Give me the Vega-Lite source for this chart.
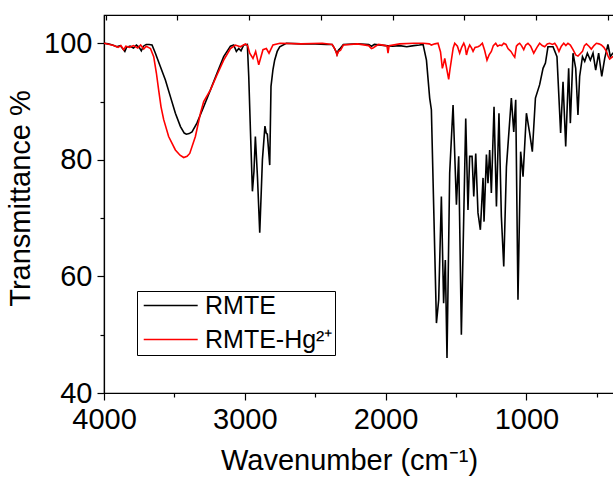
{
  "$schema": "https://vega.github.io/schema/vega-lite/v6.json",
  "width": 510,
  "height": 378,
  "autosize": {"type": "none"},
  "padding": {"left": 104, "top": 15, "right": 0, "bottom": 88},
  "background": "white",
  "config": {
    "view": {"stroke": "black", "strokeWidth": 1.2},
    "font": "Liberation Sans",
    "axis": {"grid": false, "domainColor": "black", "tickColor": "black", "labelColor": "black", "titleColor": "black", "labelFont": "Liberation Sans", "titleFont": "Liberation Sans", "titleFontWeight": "normal", "domainWidth": 1.2, "tickWidth": 1.2}
  },
  "datasets": {
    "spec": [
      {"s":"RMTE","wn":4000,"T":100},{"s":"RMTE","wn":3970,"T":99.9},{"s":"RMTE","wn":3940,"T":99.7},{"s":"RMTE","wn":3910,"T":99.4},{"s":"RMTE","wn":3885,"T":99.6},{"s":"RMTE","wn":3865,"T":99.0},{"s":"RMTE","wn":3852,"T":98.6},{"s":"RMTE","wn":3840,"T":99.3},{"s":"RMTE","wn":3815,"T":99.5},{"s":"RMTE","wn":3790,"T":99.2},{"s":"RMTE","wn":3770,"T":99.7},{"s":"RMTE","wn":3750,"T":99.3},{"s":"RMTE","wn":3735,"T":98.7},{"s":"RMTE","wn":3720,"T":99.5},{"s":"RMTE","wn":3700,"T":99.8},{"s":"RMTE","wn":3680,"T":99.8},{"s":"RMTE","wn":3659,"T":99.7},{"s":"RMTE","wn":3635,"T":98.3},{"s":"RMTE","wn":3600,"T":96},{"s":"RMTE","wn":3564,"T":93.7},{"s":"RMTE","wn":3528,"T":90.8},{"s":"RMTE","wn":3493,"T":88},{"s":"RMTE","wn":3457,"T":85.7},{"s":"RMTE","wn":3430,"T":84.6},{"s":"RMTE","wn":3415,"T":84.4},{"s":"RMTE","wn":3395,"T":84.5},{"s":"RMTE","wn":3375,"T":84.8},{"s":"RMTE","wn":3340,"T":86.3},{"s":"RMTE","wn":3292,"T":89.1},{"s":"RMTE","wn":3244,"T":92},{"s":"RMTE","wn":3197,"T":94.9},{"s":"RMTE","wn":3150,"T":97.7},{"s":"RMTE","wn":3102,"T":99.5},{"s":"RMTE","wn":3079,"T":99.7},{"s":"RMTE","wn":3060,"T":98.6},{"s":"RMTE","wn":3043,"T":99.1},{"s":"RMTE","wn":3027,"T":98.7},{"s":"RMTE","wn":3008,"T":99.7},{"s":"RMTE","wn":2982,"T":99.8},{"s":"RMTE","wn":2972,"T":94.3},{"s":"RMTE","wn":2960,"T":85},{"s":"RMTE","wn":2946,"T":74.6},{"s":"RMTE","wn":2935,"T":78},{"s":"RMTE","wn":2925,"T":84},{"s":"RMTE","wn":2910,"T":77},{"s":"RMTE","wn":2894,"T":67.5},{"s":"RMTE","wn":2884,"T":74},{"s":"RMTE","wn":2875,"T":80},{"s":"RMTE","wn":2857,"T":85.8},{"s":"RMTE","wn":2848,"T":84.6},{"s":"RMTE","wn":2840,"T":84.4},{"s":"RMTE","wn":2823,"T":79.1},{"s":"RMTE","wn":2814,"T":92.6},{"s":"RMTE","wn":2800,"T":95.5},{"s":"RMTE","wn":2788,"T":97.1},{"s":"RMTE","wn":2770,"T":98.6},{"s":"RMTE","wn":2752,"T":99.4},{"s":"RMTE","wn":2705,"T":100},{"s":"RMTE","wn":2600,"T":99.9},{"s":"RMTE","wn":2500,"T":99.9},{"s":"RMTE","wn":2420,"T":99.8},{"s":"RMTE","wn":2380,"T":99.8},{"s":"RMTE","wn":2365,"T":99.2},{"s":"RMTE","wn":2350,"T":98.5},{"s":"RMTE","wn":2345,"T":98.1},{"s":"RMTE","wn":2335,"T":98.8},{"s":"RMTE","wn":2320,"T":99.2},{"s":"RMTE","wn":2300,"T":99.8},{"s":"RMTE","wn":2200,"T":99.9},{"s":"RMTE","wn":2120,"T":99.8},{"s":"RMTE","wn":2100,"T":99.5},{"s":"RMTE","wn":2080,"T":99.8},{"s":"RMTE","wn":2000,"T":99.6},{"s":"RMTE","wn":1950,"T":99.5},{"s":"RMTE","wn":1900,"T":99.6},{"s":"RMTE","wn":1850,"T":99.4},{"s":"RMTE","wn":1800,"T":99.6},{"s":"RMTE","wn":1760,"T":99.7},{"s":"RMTE","wn":1734,"T":99.8},{"s":"RMTE","wn":1710,"T":97.1},{"s":"RMTE","wn":1687,"T":90.6},{"s":"RMTE","wn":1675,"T":88.6},{"s":"RMTE","wn":1658,"T":71.4},{"s":"RMTE","wn":1639,"T":52},{"s":"RMTE","wn":1623,"T":56},{"s":"RMTE","wn":1604,"T":73.7},{"s":"RMTE","wn":1588,"T":55.4},{"s":"RMTE","wn":1576,"T":62.8},{"s":"RMTE","wn":1564,"T":46},{"s":"RMTE","wn":1545,"T":77.7},{"s":"RMTE","wn":1521,"T":89.4},{"s":"RMTE","wn":1497,"T":72.3},{"s":"RMTE","wn":1481,"T":80.6},{"s":"RMTE","wn":1462,"T":50},{"s":"RMTE","wn":1431,"T":87.1},{"s":"RMTE","wn":1415,"T":71.4},{"s":"RMTE","wn":1403,"T":80.6},{"s":"RMTE","wn":1386,"T":80.6},{"s":"RMTE","wn":1374,"T":73.7},{"s":"RMTE","wn":1360,"T":81.1},{"s":"RMTE","wn":1344,"T":70.9},{"s":"RMTE","wn":1327,"T":68},{"s":"RMTE","wn":1308,"T":76.9},{"s":"RMTE","wn":1301,"T":69.4},{"s":"RMTE","wn":1284,"T":80.9},{"s":"RMTE","wn":1273,"T":76},{"s":"RMTE","wn":1261,"T":81.7},{"s":"RMTE","wn":1249,"T":74.3},{"s":"RMTE","wn":1230,"T":89.1},{"s":"RMTE","wn":1213,"T":72},{"s":"RMTE","wn":1195,"T":88},{"s":"RMTE","wn":1178,"T":70.3},{"s":"RMTE","wn":1161,"T":61.7},{"s":"RMTE","wn":1142,"T":78.8},{"s":"RMTE","wn":1107,"T":90.6},{"s":"RMTE","wn":1090,"T":84.8},{"s":"RMTE","wn":1076,"T":90.3},{"s":"RMTE","wn":1060,"T":56},{"s":"RMTE","wn":1041,"T":81.4},{"s":"RMTE","wn":1024,"T":77.1},{"s":"RMTE","wn":1000,"T":88},{"s":"RMTE","wn":977,"T":84.6},{"s":"RMTE","wn":958,"T":81.4},{"s":"RMTE","wn":936,"T":90.6},{"s":"RMTE","wn":906,"T":92.9},{"s":"RMTE","wn":882,"T":95.7},{"s":"RMTE","wn":865,"T":96.6},{"s":"RMTE","wn":847,"T":99.4},{"s":"RMTE","wn":811,"T":99.4},{"s":"RMTE","wn":783,"T":97.7},{"s":"RMTE","wn":757,"T":84.6},{"s":"RMTE","wn":740,"T":93.4},{"s":"RMTE","wn":721,"T":82.3},{"s":"RMTE","wn":700,"T":95.7},{"s":"RMTE","wn":688,"T":86.3},{"s":"RMTE","wn":669,"T":98.3},{"s":"RMTE","wn":650,"T":95.7},{"s":"RMTE","wn":634,"T":87.7},{"s":"RMTE","wn":622,"T":94.3},{"s":"RMTE","wn":602,"T":97.7},{"s":"RMTE","wn":586,"T":96.9},{"s":"RMTE","wn":567,"T":98.3},{"s":"RMTE","wn":546,"T":97.1},{"s":"RMTE","wn":527,"T":98.3},{"s":"RMTE","wn":508,"T":95.4},{"s":"RMTE","wn":487,"T":98.3},{"s":"RMTE","wn":465,"T":94.3},{"s":"RMTE","wn":444,"T":97.4},{"s":"RMTE","wn":421,"T":99.8},{"s":"RMTE","wn":404,"T":97.7},{"s":"RMTE","wn":387,"T":98.3},{"s":"RMTE","wn":378,"T":98.3},
      {"s":"RMTE-Hg²⁺","wn":4000,"T":100},{"s":"RMTE-Hg²⁺","wn":3960,"T":99.8},{"s":"RMTE-Hg²⁺","wn":3930,"T":99.6},{"s":"RMTE-Hg²⁺","wn":3900,"T":99.3},{"s":"RMTE-Hg²⁺","wn":3880,"T":99.6},{"s":"RMTE-Hg²⁺","wn":3860,"T":98.9},{"s":"RMTE-Hg²⁺","wn":3845,"T":99.5},{"s":"RMTE-Hg²⁺","wn":3820,"T":99.3},{"s":"RMTE-Hg²⁺","wn":3790,"T":99.6},{"s":"RMTE-Hg²⁺","wn":3760,"T":99.2},{"s":"RMTE-Hg²⁺","wn":3740,"T":99.7},{"s":"RMTE-Hg²⁺","wn":3718,"T":99.0},{"s":"RMTE-Hg²⁺","wn":3700,"T":99.5},{"s":"RMTE-Hg²⁺","wn":3685,"T":99.3},{"s":"RMTE-Hg²⁺","wn":3670,"T":99.1},{"s":"RMTE-Hg²⁺","wn":3647,"T":97.7},{"s":"RMTE-Hg²⁺","wn":3628,"T":94.9},{"s":"RMTE-Hg²⁺","wn":3612,"T":92},{"s":"RMTE-Hg²⁺","wn":3595,"T":89.1},{"s":"RMTE-Hg²⁺","wn":3576,"T":86.9},{"s":"RMTE-Hg²⁺","wn":3541,"T":84},{"s":"RMTE-Hg²⁺","wn":3493,"T":81.7},{"s":"RMTE-Hg²⁺","wn":3460,"T":80.8},{"s":"RMTE-Hg²⁺","wn":3434,"T":80.4},{"s":"RMTE-Hg²⁺","wn":3410,"T":80.6},{"s":"RMTE-Hg²⁺","wn":3391,"T":81.1},{"s":"RMTE-Hg²⁺","wn":3351,"T":84},{"s":"RMTE-Hg²⁺","wn":3315,"T":88},{"s":"RMTE-Hg²⁺","wn":3292,"T":90},{"s":"RMTE-Hg²⁺","wn":3244,"T":92},{"s":"RMTE-Hg²⁺","wn":3197,"T":94.6},{"s":"RMTE-Hg²⁺","wn":3150,"T":97.1},{"s":"RMTE-Hg²⁺","wn":3102,"T":99.1},{"s":"RMTE-Hg²⁺","wn":3067,"T":99.7},{"s":"RMTE-Hg²⁺","wn":3031,"T":99.4},{"s":"RMTE-Hg²⁺","wn":2996,"T":99.9},{"s":"RMTE-Hg²⁺","wn":2980,"T":99.6},{"s":"RMTE-Hg²⁺","wn":2965,"T":98.3},{"s":"RMTE-Hg²⁺","wn":2942,"T":97.4},{"s":"RMTE-Hg²⁺","wn":2923,"T":98.6},{"s":"RMTE-Hg²⁺","wn":2901,"T":96.3},{"s":"RMTE-Hg²⁺","wn":2871,"T":98.9},{"s":"RMTE-Hg²⁺","wn":2847,"T":99.1},{"s":"RMTE-Hg²⁺","wn":2828,"T":98.3},{"s":"RMTE-Hg²⁺","wn":2800,"T":99.7},{"s":"RMTE-Hg²⁺","wn":2750,"T":100},{"s":"RMTE-Hg²⁺","wn":2600,"T":99.9},{"s":"RMTE-Hg²⁺","wn":2450,"T":100},{"s":"RMTE-Hg²⁺","wn":2380,"T":99.8},{"s":"RMTE-Hg²⁺","wn":2360,"T":99.0},{"s":"RMTE-Hg²⁺","wn":2345,"T":98.0},{"s":"RMTE-Hg²⁺","wn":2335,"T":98.6},{"s":"RMTE-Hg²⁺","wn":2320,"T":98.8},{"s":"RMTE-Hg²⁺","wn":2300,"T":99.7},{"s":"RMTE-Hg²⁺","wn":2200,"T":99.9},{"s":"RMTE-Hg²⁺","wn":2120,"T":99.6},{"s":"RMTE-Hg²⁺","wn":2101,"T":99.1},{"s":"RMTE-Hg²⁺","wn":2090,"T":99.2},{"s":"RMTE-Hg²⁺","wn":2050,"T":99.8},{"s":"RMTE-Hg²⁺","wn":2000,"T":99.6},{"s":"RMTE-Hg²⁺","wn":1990,"T":99.5},{"s":"RMTE-Hg²⁺","wn":1983,"T":98.3},{"s":"RMTE-Hg²⁺","wn":1975,"T":99.6},{"s":"RMTE-Hg²⁺","wn":1900,"T":99.9},{"s":"RMTE-Hg²⁺","wn":1800,"T":100},{"s":"RMTE-Hg²⁺","wn":1734,"T":100},{"s":"RMTE-Hg²⁺","wn":1690,"T":99.9},{"s":"RMTE-Hg²⁺","wn":1675,"T":99.7},{"s":"RMTE-Hg²⁺","wn":1650,"T":99.9},{"s":"RMTE-Hg²⁺","wn":1628,"T":100},{"s":"RMTE-Hg²⁺","wn":1610,"T":98.5},{"s":"RMTE-Hg²⁺","wn":1597,"T":95.7},{"s":"RMTE-Hg²⁺","wn":1588,"T":96.5},{"s":"RMTE-Hg²⁺","wn":1580,"T":97.4},{"s":"RMTE-Hg²⁺","wn":1565,"T":95.5},{"s":"RMTE-Hg²⁺","wn":1552,"T":93.8},{"s":"RMTE-Hg²⁺","wn":1543,"T":95.5},{"s":"RMTE-Hg²⁺","wn":1533,"T":97.1},{"s":"RMTE-Hg²⁺","wn":1520,"T":99.2},{"s":"RMTE-Hg²⁺","wn":1509,"T":100},{"s":"RMTE-Hg²⁺","wn":1490,"T":99.5},{"s":"RMTE-Hg²⁺","wn":1474,"T":98.3},{"s":"RMTE-Hg²⁺","wn":1460,"T":99.3},{"s":"RMTE-Hg²⁺","wn":1445,"T":100},{"s":"RMTE-Hg²⁺","wn":1435,"T":99.4},{"s":"RMTE-Hg²⁺","wn":1426,"T":98},{"s":"RMTE-Hg²⁺","wn":1415,"T":99},{"s":"RMTE-Hg²⁺","wn":1403,"T":99.7},{"s":"RMTE-Hg²⁺","wn":1390,"T":99.2},{"s":"RMTE-Hg²⁺","wn":1379,"T":98.6},{"s":"RMTE-Hg²⁺","wn":1365,"T":99.3},{"s":"RMTE-Hg²⁺","wn":1344,"T":99.4},{"s":"RMTE-Hg²⁺","wn":1330,"T":99.6},{"s":"RMTE-Hg²⁺","wn":1313,"T":100},{"s":"RMTE-Hg²⁺","wn":1297,"T":98.8},{"s":"RMTE-Hg²⁺","wn":1280,"T":97.1},{"s":"RMTE-Hg²⁺","wn":1265,"T":98},{"s":"RMTE-Hg²⁺","wn":1249,"T":98.6},{"s":"RMTE-Hg²⁺","wn":1235,"T":99.6},{"s":"RMTE-Hg²⁺","wn":1218,"T":100},{"s":"RMTE-Hg²⁺","wn":1205,"T":99.5},{"s":"RMTE-Hg²⁺","wn":1190,"T":99.7},{"s":"RMTE-Hg²⁺","wn":1175,"T":99.6},{"s":"RMTE-Hg²⁺","wn":1161,"T":100},{"s":"RMTE-Hg²⁺","wn":1145,"T":99.8},{"s":"RMTE-Hg²⁺","wn":1131,"T":99.1},{"s":"RMTE-Hg²⁺","wn":1110,"T":98.6},{"s":"RMTE-Hg²⁺","wn":1095,"T":98},{"s":"RMTE-Hg²⁺","wn":1083,"T":97.6},{"s":"RMTE-Hg²⁺","wn":1071,"T":99.5},{"s":"RMTE-Hg²⁺","wn":1060,"T":99.8},{"s":"RMTE-Hg²⁺","wn":1048,"T":100},{"s":"RMTE-Hg²⁺","wn":1035,"T":99.6},{"s":"RMTE-Hg²⁺","wn":1019,"T":98.9},{"s":"RMTE-Hg²⁺","wn":1005,"T":99.7},{"s":"RMTE-Hg²⁺","wn":989,"T":100},{"s":"RMTE-Hg²⁺","wn":970,"T":99.5},{"s":"RMTE-Hg²⁺","wn":948,"T":98.3},{"s":"RMTE-Hg²⁺","wn":925,"T":99.3},{"s":"RMTE-Hg²⁺","wn":906,"T":100},{"s":"RMTE-Hg²⁺","wn":888,"T":99.6},{"s":"RMTE-Hg²⁺","wn":870,"T":99.4},{"s":"RMTE-Hg²⁺","wn":852,"T":99.9},{"s":"RMTE-Hg²⁺","wn":835,"T":100},{"s":"RMTE-Hg²⁺","wn":815,"T":99.8},{"s":"RMTE-Hg²⁺","wn":799,"T":100},{"s":"RMTE-Hg²⁺","wn":785,"T":99.5},{"s":"RMTE-Hg²⁺","wn":769,"T":98.6},{"s":"RMTE-Hg²⁺","wn":752,"T":99.5},{"s":"RMTE-Hg²⁺","wn":735,"T":100},{"s":"RMTE-Hg²⁺","wn":720,"T":99.6},{"s":"RMTE-Hg²⁺","wn":705,"T":100},{"s":"RMTE-Hg²⁺","wn":688,"T":99.7},{"s":"RMTE-Hg²⁺","wn":669,"T":98.9},{"s":"RMTE-Hg²⁺","wn":650,"T":98},{"s":"RMTE-Hg²⁺","wn":634,"T":97.8},{"s":"RMTE-Hg²⁺","wn":618,"T":98.2},{"s":"RMTE-Hg²⁺","wn":602,"T":98.6},{"s":"RMTE-Hg²⁺","wn":588,"T":99.6},{"s":"RMTE-Hg²⁺","wn":574,"T":99.9},{"s":"RMTE-Hg²⁺","wn":556,"T":99.5},{"s":"RMTE-Hg²⁺","wn":539,"T":99},{"s":"RMTE-Hg²⁺","wn":520,"T":99.6},{"s":"RMTE-Hg²⁺","wn":503,"T":100},{"s":"RMTE-Hg²⁺","wn":485,"T":99.9},{"s":"RMTE-Hg²⁺","wn":468,"T":99.7},{"s":"RMTE-Hg²⁺","wn":450,"T":99.3},{"s":"RMTE-Hg²⁺","wn":432,"T":98.6},{"s":"RMTE-Hg²⁺","wn":420,"T":97.8},{"s":"RMTE-Hg²⁺","wn":409,"T":97.3},{"s":"RMTE-Hg²⁺","wn":398,"T":97.5},{"s":"RMTE-Hg²⁺","wn":387,"T":97.7},{"s":"RMTE-Hg²⁺","wn":378,"T":97.8}
    ]
  },
  "data": {"name": "spec"},
  "layer": [
    {
      "mark": {"type": "line", "strokeWidth": 1.6, "clip": true},
      "encoding": {
        "x": {
          "field": "wn", "type": "quantitative",
          "scale": {"domain": [4000, 378], "nice": false, "zero": false},
          "axis": {
            "orient": "bottom",
            "values": [4000, 3500, 3000, 2500, 2000, 1500, 1000, 500],
            "format": "d",
            "labelExpr": "datum.value % 1000 === 0 ? datum.label : ''",
            "tickSize": {"condition": {"test": "datum.value % 1000 === 0", "value": 7}, "value": 4},
            "labelFontSize": 29,
            "labelPadding": 5,
            "labelFlush": false,
            "labelOverlap": false,
            "title": "Wavenumber (cm⁻¹)",
            "titleFontSize": 29,
            "titlePadding": 12,
            "titleX": 245
          }
        },
        "y": {
          "field": "T", "type": "quantitative",
          "scale": {"domain": [40, 104.85], "nice": false, "zero": false},
          "axis": {
            "orient": "left",
            "values": [40, 50, 60, 70, 80, 90, 100],
            "labelExpr": "datum.value % 20 === 0 ? datum.label : ''",
            "tickSize": {"condition": {"test": "datum.value % 20 === 0", "value": 7}, "value": 4},
            "labelFontSize": 29,
            "labelPadding": 5,
            "labelOverlap": false,
            "title": "Transmittance %",
            "titleFontSize": 29,
            "titlePadding": 8,
            "titleY": 183
          }
        },
        "color": {
          "field": "s", "type": "nominal",
          "scale": {"domain": ["RMTE", "RMTE-Hg²⁺"], "range": ["black", "#ff0000"]},
          "legend": {
            "orient": "none", "legendX": 33, "legendY": 276,
            "title": null,
            "strokeColor": "black",
            "padding": 2,
            "symbolType": "M-0.72,0H4.28",
            "symbolSize": 466,
            "symbolStrokeWidth": 1.5,
            "labelFontSize": 25,
            "labelFont": "Liberation Sans",
            "labelColor": "black",
            "labelOffset": 41,
            "rowPadding": 8
          }
        }
      }
    },
    {
      "mark": {"type": "line", "opacity": 0},
      "encoding": {
        "x": {
          "field": "wn", "type": "quantitative",
          "scale": {"domain": [4011, 458], "nice": false, "zero": false},
          "axis": {
            "orient": "top",
            "values": [4000, 3500, 3000, 2500, 2000, 1500, 1000, 500],
            "labels": false,
            "tickSize": -5,
            "domain": true,
            "title": null
          }
        },
        "y": {"field": "T", "type": "quantitative", "axis": null}
      }
    }
  ],
  "resolve": {"scale": {"x": "independent"}, "axis": {"x": "independent", "y": "independent"}}
}
